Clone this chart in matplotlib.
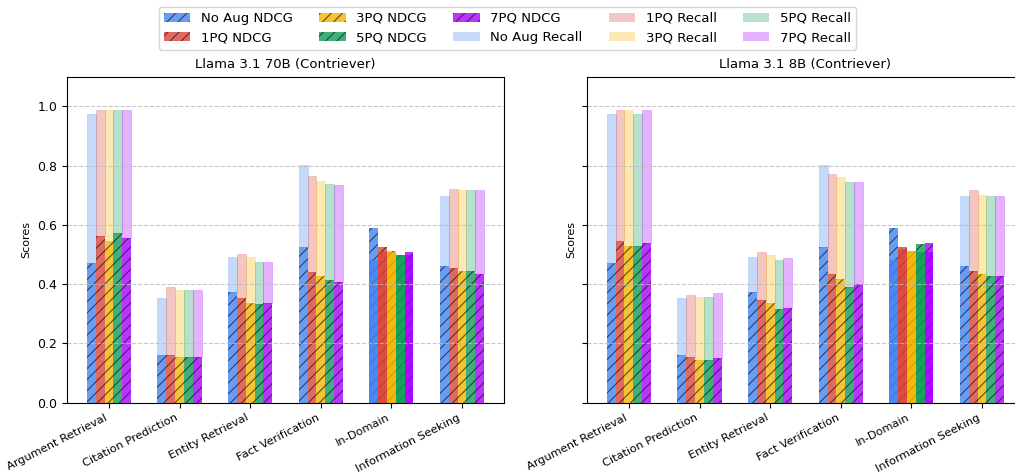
import matplotlib.pyplot as plt
import numpy as np
from matplotlib.colors import to_rgba
from matplotlib.patches import Patch

categories = ["Argument Retrieval", "Citation Prediction", "Entity Retrieval",
              "Fact Verification", "In-Domain", "Information Seeking"]
methods = ["No Aug", "1PQ", "3PQ", "5PQ", "7PQ"]
colors = ["#4285F4", "#DB4437", "#F4B400", "#0F9D58", "#AA00FF"]

# Llama 3.1 70B (Contriever)
ndcg_70b = {
    "No Aug": [0.473, 0.160, 0.372, 0.524, 0.591, 0.463],
    "1PQ":    [0.561, 0.160, 0.355, 0.440, 0.527, 0.456],
    "3PQ":    [0.547, 0.153, 0.338, 0.426, 0.513, 0.443],
    "5PQ":    [0.571, 0.156, 0.332, 0.413, 0.500, 0.443],
    "7PQ":    [0.557, 0.156, 0.335, 0.406, 0.507, 0.436],
}
recall_70b = {
    "No Aug": [0.975, 0.355, 0.493, 0.802, 0.480, 0.699],
    "1PQ":    [0.989, 0.392, 0.503, 0.766, 0.508, 0.722],
    "3PQ":    [0.986, 0.379, 0.493, 0.749, 0.507, 0.719],
    "5PQ":    [0.986, 0.382, 0.476, 0.739, 0.497, 0.719],
    "7PQ":    [0.986, 0.382, 0.476, 0.736, 0.500, 0.716],
}

# Llama 3.1 8B (Contriever)
ndcg_8b = {
    "No Aug": [0.473, 0.160, 0.372, 0.524, 0.591, 0.463],
    "1PQ":    [0.547, 0.153, 0.345, 0.436, 0.524, 0.446],
    "3PQ":    [0.530, 0.146, 0.338, 0.416, 0.513, 0.433],
    "5PQ":    [0.530, 0.146, 0.318, 0.392, 0.537, 0.426],
    "7PQ":    [0.540, 0.150, 0.321, 0.399, 0.540, 0.426],
}
recall_8b = {
    "No Aug": [0.975, 0.355, 0.493, 0.802, 0.480, 0.699],
    "1PQ":    [0.989, 0.365, 0.510, 0.773, 0.517, 0.716],
    "3PQ":    [0.986, 0.358, 0.500, 0.763, 0.512, 0.702],
    "5PQ":    [0.975, 0.358, 0.483, 0.743, 0.507, 0.699],
    "7PQ":    [0.986, 0.369, 0.490, 0.743, 0.510, 0.699],
}

panels = [("Llama 3.1 70B (Contriever)", ndcg_70b, recall_70b),
          ("Llama 3.1 8B (Contriever)", ndcg_8b, recall_8b)]

x = np.arange(len(categories))
width = 0.125
hatch_edge = (0.1, 0.1, 0.1, 0.7)
plt.rcParams["hatch.linewidth"] = 0.8

fig = plt.figure(figsize=(10.15, 4.75), dpi=100)
ax1 = fig.add_axes([0.066, 0.152, 0.4305, 0.6867])
ax2 = fig.add_axes([0.5783, 0.152, 0.4305, 0.6867], sharey=ax1)

for ax, (title, ndcg, recall) in zip([ax1, ax2], panels):
    for i, (m, c) in enumerate(zip(methods, colors)):
        pos = x + (i - 2) * width
        nd = np.array(ndcg[m])
        rc = np.array(recall[m])
        # NDCG: hatched, slightly transparent
        ax.bar(pos, nd, width, facecolor=to_rgba(c, 0.8), edgecolor=hatch_edge,
               linewidth=0, hatch="///", zorder=1)
        # Recall above NDCG: light fill
        up = rc > nd
        ax.bar(pos[up], (rc - nd)[up], width, bottom=nd[up],
               facecolor=to_rgba(c, 0.3), edgecolor=to_rgba(c, 0.3),
               linewidth=0.5, zorder=1)
        # Recall below NDCG: solid overlay
        dn = ~up
        ax.bar(pos[dn], rc[dn], width, facecolor=to_rgba(c, 0.8),
               linewidth=0, zorder=1.2)
    ax.set_title(title, fontsize=9.5)
    ax.set_ylabel("Scores", fontsize=8)
    ax.set_ylim(0, 1.1)
    ax.set_xticks(x)
    ax.set_xticklabels(categories, rotation=27, ha="right", fontsize=8.2)
    ax.tick_params(axis="y", labelsize=9)
    ax.yaxis.grid(True, linestyle="--", color="#bbbbbb", alpha=0.8, linewidth=0.8)
    ax.set_yticks([0.0, 0.2, 0.4, 0.6, 0.8, 1.0])

ax2.tick_params(axis="y", labelleft=False)

handles = [Patch(facecolor=to_rgba(c, 0.8), edgecolor=hatch_edge, linewidth=0,
                 hatch="///", label=f"{m} NDCG") for m, c in zip(methods, colors)]
handles += [Patch(facecolor=to_rgba(c, 0.3), edgecolor="none",
                  label=f"{m} Recall") for m, c in zip(methods, colors)]
fig.legend(handles=handles, loc="upper center", bbox_to_anchor=(0.5, 1.0),
           ncol=5, fontsize=9.5, frameon=True)

fig.savefig("out.png", dpi=100)
